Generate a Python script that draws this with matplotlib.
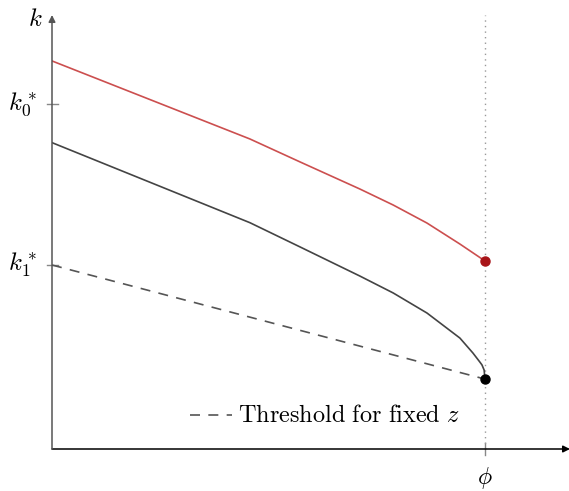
import matplotlib.pyplot as plt

plt.rcParams['mathtext.fontset'] = 'cm'

# readings (phi = 1 on x, k1* = 1 on y)
k0_star = 1.875
k1_star = 1.0
phi = 1.0

x_red = [0.0, 0.249, 0.457, 0.573, 0.711, 0.788, 0.866, 0.942, 1.0]
k_red = [2.109, 1.878, 1.685, 1.560, 1.413, 1.326, 1.228, 1.114, 1.022]

x_black = [0.0, 0.249, 0.457, 0.573, 0.711, 0.788, 0.866, 0.942, 0.972,
           0.988, 0.993, 0.998, 1.0]
k_black = [1.665, 1.428, 1.230, 1.098, 0.940, 0.848, 0.739, 0.603, 0.522,
           0.473, 0.457, 0.429, 0.380]

x_thr = [0.0, 1.0]
k_thr = [1.0, 0.380]

fig = plt.figure(figsize=(5.69, 4.91), dpi=100)
W, H = 569, 491
ax = fig.add_axes([52 / W, (H - 449) / H, 518 / W, 434 / H])
xmax, ymax = 518 / 433, 434 / 184
ax.set_xlim(0, xmax)
ax.set_ylim(0, ymax)
ax.axis('off')

# axes with arrows
ax.annotate('', xy=(xmax, 0), xytext=(0, 0),
            arrowprops=dict(arrowstyle='-|>', color='black', lw=1.1,
                            mutation_scale=10, shrinkA=0, shrinkB=0),
            annotation_clip=False)
ax.annotate('', xy=(0, ymax), xytext=(0, 0),
            arrowprops=dict(arrowstyle='-|>', color='#555555', lw=1.1,
                            mutation_scale=10, shrinkA=0, shrinkB=0),
            annotation_clip=False)

# ticks
for yv in [k0_star, k1_star]:
    ax.plot([-0.012, 0.014], [yv, yv], color='#888888', lw=1, clip_on=False)
ax.plot([phi, phi], [-0.03, 0.03], color='#888888', lw=1, clip_on=False)

ax.axvline(phi, color='#999999', lw=1, ls=(0, (1, 3)))

ax.plot(x_red, k_red, color='#cc4f4f', lw=1.2)
ax.plot(x_black, k_black, color='#444444', lw=1.2)
ax.plot(x_thr, k_thr, color='#555555', lw=1.2, ls=(0, (6, 5)))

ax.plot(phi, k_red[-1], 'o', color='#a81418', ms=6.5)
ax.plot(phi, k_black[-1], 'o', color='black', ms=6.5)

# labels
ax.text(-0.022, ymax - 0.02, '$k$', fontsize=18, ha='right', va='center')
ax.text(-0.035, k0_star, '$k_0^*$', fontsize=18, ha='right', va='center')
ax.text(-0.035, k1_star, '$k_1^*$', fontsize=18, ha='right', va='center')
ax.text(phi, -0.19, r'$\phi$', fontsize=17, ha='center', va='baseline')

# legend
ax.plot([0.319, 0.416], [0.185, 0.185], color='#555555', lw=1.2, ls=(0, (6, 5)))
ax.text(0.43, 0.185, r'$\mathrm{Threshold\ for\ fixed}\ z$', fontsize=17.5,
        ha='left', va='center')

fig.savefig('out.png', dpi=100)
